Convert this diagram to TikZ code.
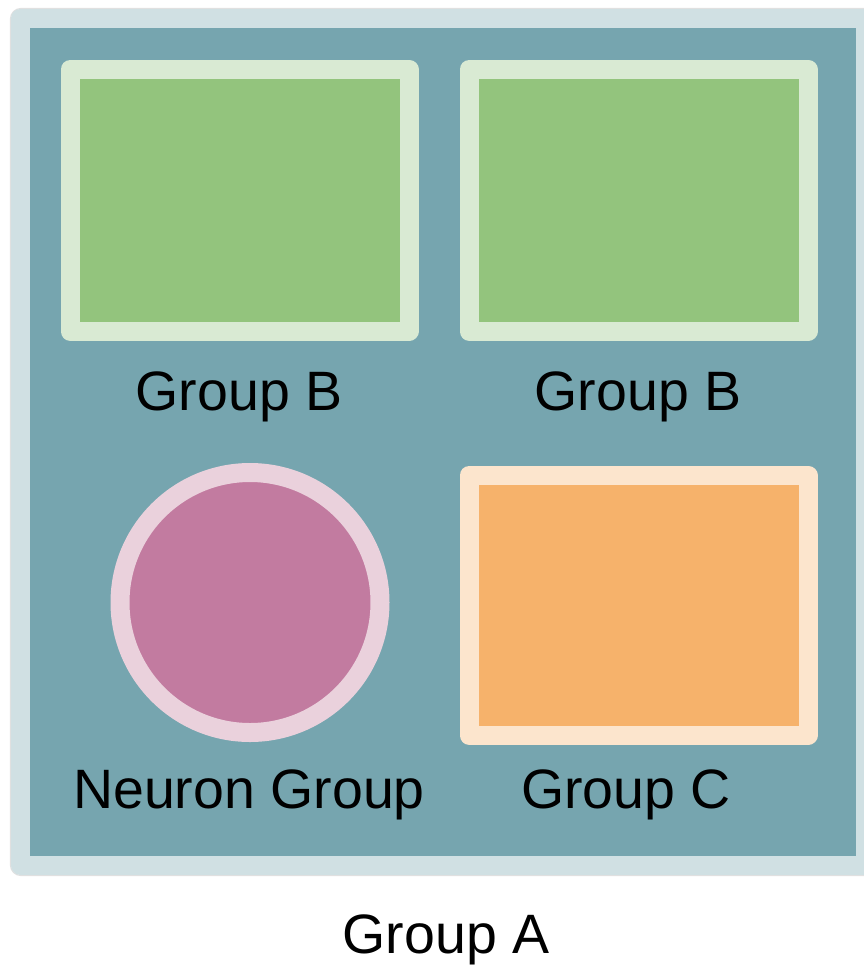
\documentclass[tikz,border=0pt]{standalone}
\usepackage{fontspec}
\setmainfont{Liberation Sans}
\definecolor{teal1}{HTML}{76A5AF}
\definecolor{frame1}{HTML}{D0E0E3}
\definecolor{green1}{HTML}{93C47D}
\definecolor{green2}{HTML}{D9EAD3}
\definecolor{orange1}{HTML}{F6B26B}
\definecolor{orange2}{HTML}{FCE5CD}
\definecolor{pink1}{HTML}{C27BA0}
\definecolor{pink2}{HTML}{EAD1DC}
\tikzset{
  lbl/.style={anchor=base, inner sep=0pt, font=\fontsize{55.5}{55.5}\selectfont, text=black},
  groupbox/.style={rectangle, line width=19pt, line join=round, inner sep=0pt},
  gbox/.style={groupbox, draw=green2, fill=green1, minimum width=339pt, minimum height=262pt},
  cbox/.style={groupbox, draw=orange2, fill=orange1, minimum width=339pt, minimum height=260pt},
  nbox/.style={circle, line width=19pt, draw=pink2, fill=pink1, minimum size=260pt, inner sep=0pt},
}
\begin{document}
\begin{tikzpicture}[x=1pt, y=-1pt]
\useasboundingbox (0,0) rectangle (864,967);
\fill[white] (0,0) rectangle (864,967);
% outer frame (Group A)
\draw[rounded corners=10.5pt, draw=black!12, line width=1.2pt] (10.5,8.5) rectangle (875,875.5);
\node[groupbox, draw=frame1, fill=teal1, minimum width=844.5pt, minimum height=847pt] (groupA) at (442.75,441.5) {};
% members
\node[gbox] (b1) at (239.5,200.25) {};
\node[gbox] (b2) at (638.5,200.25) {};
\node[cbox] (c) at (638.5,605.25) {};
\node[nbox] (n) at (250,602.5) {};
% labels
\node[lbl] (lb1) at (239,410) {Group B};
\node[lbl] (lb2) at (638,410) {Group B};
\node[lbl] (ln) at (249,808) {Neuron Group};
\node[lbl] (lc) at (626,808) {Group C};
\node[lbl] (la) at (446,953) {Group A};
\end{tikzpicture}
\end{document}
